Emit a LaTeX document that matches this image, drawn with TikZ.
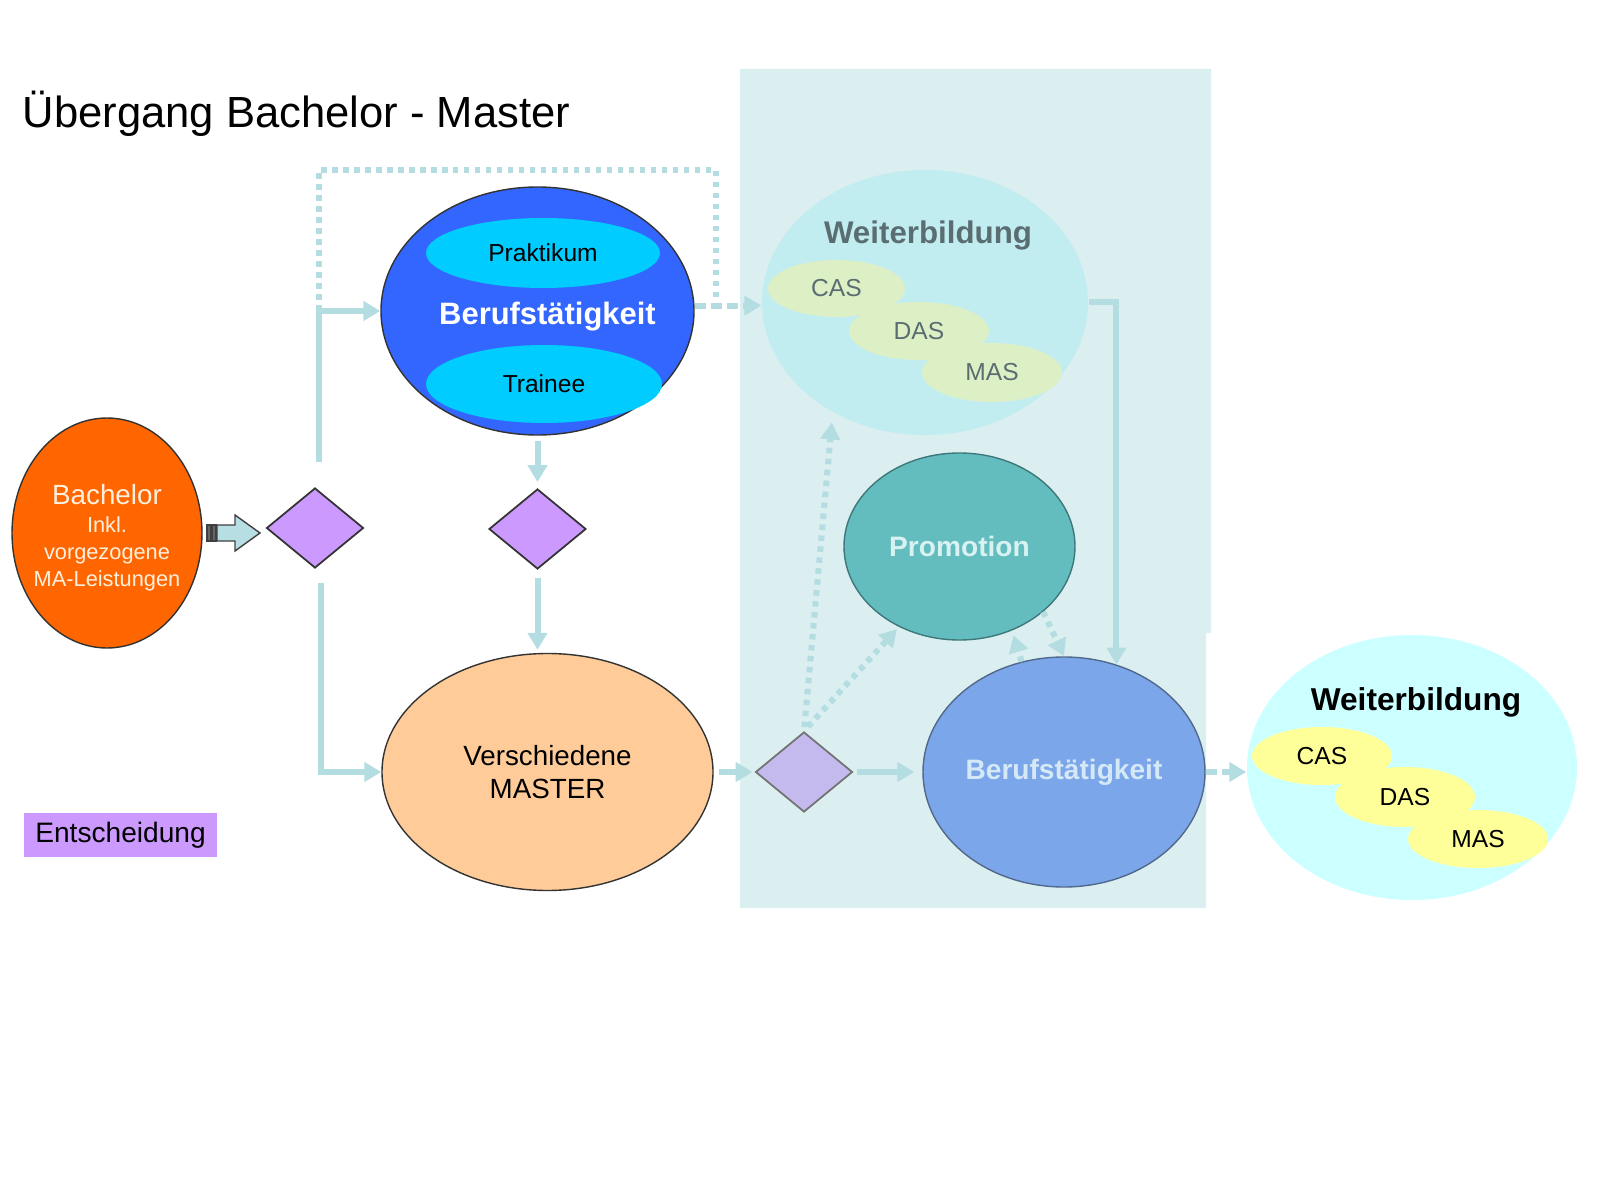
\documentclass[tikz,border=0pt]{standalone}
\usepackage{fontspec}
\setmainfont{Liberation Sans}
\usetikzlibrary{shapes.geometric,arrows.meta}
\definecolor{verb}{RGB}{180,221,226}
\definecolor{hinter}{RGB}{219,238,240}
\definecolor{bachfill}{RGB}{255,102,0}
\definecolor{bachtext}{RGB}{255,240,222}
\definecolor{rautefill}{RGB}{204,153,255}
\definecolor{raute3fill}{RGB}{196,186,238}
\definecolor{beruffill}{RGB}{51,102,255}
\definecolor{cyanfill}{RGB}{0,204,255}
\definecolor{masterfill}{RGB}{255,204,153}
\definecolor{wbeinsfill}{RGB}{193,237,240}
\definecolor{wbeinstext}{RGB}{90,110,114}
\definecolor{subeinsfill}{RGB}{221,240,197}
\definecolor{promofill}{RGB}{99,189,190}
\definecolor{promorand}{RGB}{62,120,122}
\definecolor{promotext}{RGB}{216,242,242}
\definecolor{berufzweifill}{RGB}{123,166,234}
\definecolor{berufzweirand}{RGB}{80,105,140}
\definecolor{berufzweitext}{RGB}{213,232,246}
\definecolor{wbzweifill}{RGB}{204,255,255}
\definecolor{subzweifill}{RGB}{255,255,153}
\definecolor{pfeilfill}{RGB}{183,222,226}
\begin{document}
\begin{tikzpicture}[x=0.1mm,y=-0.1mm,
        ell/.style={ellipse,inner sep=0pt},
        raute/.style={diamond,draw=black!80,fill=rautefill,line width=0.5pt,minimum width=9.7mm,minimum height=8mm,inner sep=0pt},
        subell/.style={ell,minimum width=14mm,minimum height=5.8mm,font=\fontsize{7}{8}\selectfont},
        verbinder/.style={draw=verb,line width=0.6mm,-{Triangle[width=1.9mm,length=1.7mm]}},
        gepunktet/.style={verbinder,dash pattern=on 0.55mm off 0.55mm},
        gestrichelt/.style={verbinder,dash pattern=on 1.1mm off 0.5mm},
        punktlinie/.style={draw=verb,line width=0.6mm,dash pattern=on 0.55mm off 0.55mm}]
        \useasboundingbox (0,0) rectangle (1600,1200);
        \fill[hinter] (740,69) -- (1211,69) -- (1211,633) -- (1206,633) -- (1206,908) -- (740,908) -- cycle;
        \node[anchor=west,inner sep=0pt,font=\fontsize{12.4}{15}\selectfont] (titel) at (22,114) {Übergang Bachelor - Master};
        \node[ell,draw=black!80,fill=bachfill,minimum width=19mm,minimum height=23mm] (bach) at (107,533) {};
        \node[text=bachtext,align=center,font=\fontsize{6.2}{7.8}\selectfont] (bachname) at (107,538) {{\fontsize{7.9}{9.6}\selectfont Bachelor}\\Inkl.\\vorgezogene\\MA-Leistungen};
        \node[raute] (d1) at (315,528) {};
        \node[raute] (d2) at (537.5,529) {};
        \node[raute,fill=raute3fill,draw=black!55] (d3) at (804,772) {};
        \node[ell,draw=black!80,fill=beruffill,minimum width=31.3mm,minimum height=24.8mm] (beruf) at (537.5,311) {};
        \node[ell,fill=cyanfill,minimum width=23.4mm,minimum height=7mm,font=\fontsize{7}{8}\selectfont] (prakt) at (543,253) {Praktikum};
        \node[ell,fill=cyanfill,minimum width=23.6mm,minimum height=7.8mm,font=\fontsize{7}{8}\selectfont] (trainee) at (544,384) {Trainee};
        \node[text=white,font=\fontsize{8.8}{10}\selectfont\bfseries] (berufname) at (547.5,317) {Berufstätigkeit};
        \node[ell,draw=black!80,fill=masterfill,minimum width=33.1mm,minimum height=23.7mm,align=center,font=\fontsize{7.9}{9.4}\selectfont] (master) at (547.5,772) {Verschiedene\\MASTER};
        \node[ell,fill=wbeinsfill,minimum width=32.6mm,minimum height=26.5mm] (wbeins) at (925,302.5) {};
        \node[text=wbeinstext,font=\fontsize{8.9}{10}\selectfont\bfseries] (wbeinsname) at (928,235) {Weiterbildung};
        \node[subell,fill=subeinsfill,text=wbeinstext,minimum width=13.7mm,minimum height=5.7mm] (caseins) at (836.5,288.5) {CAS};
        \node[subell,fill=subeinsfill,text=wbeinstext] (daseins) at (919,331) {DAS};
        \node[subell,fill=subeinsfill,text=wbeinstext,minimum height=5.9mm] (maseins) at (992,372.5) {MAS};
        \node[ell,draw=promorand,fill=promofill,minimum width=23.1mm,minimum height=18.7mm,text=promotext,font=\fontsize{8}{9}\selectfont\bfseries] (promo) at (959.5,546.5) {Promotion};
        \node[ell,draw=berufzweirand,fill=berufzweifill,minimum width=28.2mm,minimum height=23mm,text=berufzweitext,font=\fontsize{8}{9}\selectfont\bfseries] (berufzwei) at (1064,772) {Berufstätigkeit};
        \node[ell,fill=wbzweifill,minimum width=33mm,minimum height=26.5mm] (wbzwei) at (1412,767.5) {};
        \node[font=\fontsize{9}{10}\selectfont\bfseries] (wbzweiname) at (1416,702) {Weiterbildung};
        \node[subell,fill=subzweifill] (caszwei) at (1322,756) {CAS};
        \node[subell,fill=subzweifill,minimum height=6mm] (daszwei) at (1405,797) {DAS};
        \node[subell,fill=subzweifill] (maszwei) at (1478,839) {MAS};
        \node[fill=rautefill,minimum width=19.3mm,minimum height=4.4mm,inner sep=0pt,font=\fontsize{8}{9}\selectfont] (entsch) at (120.5,835) {Entscheidung};
        \draw[black!75,fill=pfeilfill,line width=0.4pt] (217,525) -- (235,525) -- (235,515) -- (260,533) -- (235,551) -- (235,541) -- (217,541) -- cycle;
        \draw[black!75,fill=black!60,line width=0.3pt] (207,525) rectangle (211,541);
        \draw[black!75,fill=black!60,line width=0.3pt] (212,525) rectangle (216,541);
        \coordinate (ecke) at ([xshift=0.4mm]d1.north |- beruf.west);
        \coordinate (schleife) at (716,305);
        \draw[verbinder,shorten <=2.5mm] ([xshift=0.4mm]d1.north) |- (beruf.west);
        \draw[punktlinie] (ecke) -- ++(0,-141) -| (schleife);
        \draw[gestrichelt] (beruf.2) -- (beruf.2 -| wbeins.west);
        \draw[verbinder,shorten <=1.4mm] ([xshift=0.6mm]d1.south) |- (master.west);
        \draw[verbinder,shorten <=0.5mm,shorten >=0.6mm] (beruf.south) -- (d2.north);
        \draw[verbinder,shorten <=0.8mm,shorten >=0.3mm] (d2.south) -- (d2.south |- master.north);
        \draw[verbinder,shorten <=0.5mm,shorten >=0.2mm] (master.east) -- (d3.west);
        \draw[verbinder,shorten <=0.4mm,shorten >=0.8mm] (d3.east) -- (berufzwei.west);
        \draw[gepunktet,shorten <=0.4mm,shorten >=1mm] (d3.north) -- (wbeins.230);
        \draw[gepunktet,shorten <=0.6mm,shorten >=0.3mm] (d3.north) -- (promo.233);
        \draw[gepunktet,shorten >=0.5mm] (berufzwei.111) -- (promo.302);
        \draw[gepunktet] (promo.322) -- (berufzwei.north);
        \draw[verbinder] (wbeins.east) -| (berufzwei.64);
        \draw[gestrichelt] (berufzwei.east) -- (berufzwei.east -| wbzwei.west);
    \end{tikzpicture}
\end{document}
